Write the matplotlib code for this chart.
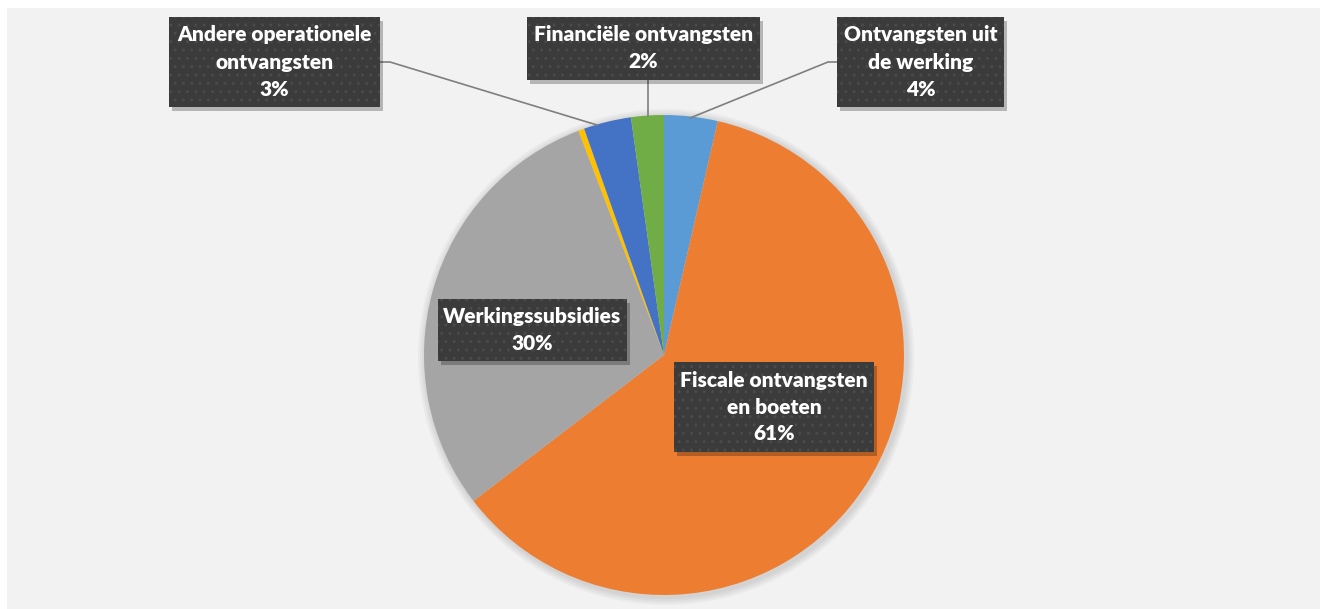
import matplotlib
matplotlib.use("Agg")
import matplotlib.pyplot as plt
from matplotlib.patches import Rectangle

# slices, clockwise from 12 o'clock
labels = ["Ontvangsten uit\nde werking", "Fiscale ontvangsten\nen boeten", "Werkingssubsidies",
          "", "Andere operationele\nontvangsten", "Financiële ontvangsten"]
shares = [3.6, 61.0, 29.6, 0.4, 3.2, 2.2]
colors = ["#5B9BD5", "#ED7D31", "#A5A5A5", "#FFC000", "#4472C4", "#70AD47"]

W, H = 1320, 609
fig = plt.figure(figsize=(W / 100, H / 100), dpi=100)
fig.patch.set_facecolor("white")
ax = fig.add_axes([0, 0, 1, 1])
ax.set_xlim(0, W)
ax.set_ylim(0, H)
ax.set_aspect("equal")
ax.axis("off")

# chart area background
ax.add_patch(Rectangle((7, 0), W - 7, H - 8, facecolor="#F2F2F2", edgecolor="none", zorder=0))

cx, cy, r = 664, H - 355, 240
# soft shadow behind the pie
for k, a in enumerate([0.03, 0.03, 0.03, 0.03]):
    ax.add_patch(plt.Circle((cx + 2, cy - 2), r + 8 - 2 * k, color="black", alpha=a, lw=0, zorder=1))
ax.pie(shares, colors=colors, startangle=90, counterclock=False, center=(cx, cy), radius=r,
       wedgeprops=dict(linewidth=0, zorder=2), frame=True)
ax.set_xlim(0, W)
ax.set_ylim(0, H)
ax.axis("off")

# label boxes: (left, top, right, bottom) in pixels, slice index
boxes = [
    ((837, 17, 1004, 107), 0),
    ((674, 362, 874, 452), 1),
    ((438, 299, 627, 361), 2),
    ((169, 17, 380, 107), 4),
    ((527, 17, 760, 80), 5),
]

# leader lines (pixel coords)
leaders = [
    [(837, 62), (828, 62), (690, 118)],
    [(380, 62), (390, 62), (597, 125)],
    [(648, 80), (648, 116)],
]
for pts in leaders:
    ax.plot([p[0] for p in pts], [H - p[1] for p in pts], color="#7F7F7F", lw=1.2, zorder=3)

for (x0, y0, x1, y1), i in boxes:
    w, h = x1 - x0, y1 - y0
    ax.add_patch(Rectangle((x0 + 3, H - y1 - 4), w, h, facecolor="black", alpha=0.25,
                           edgecolor="none", zorder=4))
    ax.add_patch(Rectangle((x0, H - y1), w, h, facecolor="#3B3B3B", edgecolor="#4A4A4A",
                           hatch="..", lw=0, zorder=5))
    txt = labels[i] + "\n" + f"{round(shares[i]):d}%"
    ax.text((x0 + x1) / 2, H - (y0 + y1) / 2, txt, ha="center", va="center", color="white",
            fontsize=15, fontweight="heavy", family="Lato", linespacing=1.5, zorder=6)

fig.savefig("out.png", dpi=100, facecolor=fig.get_facecolor())
